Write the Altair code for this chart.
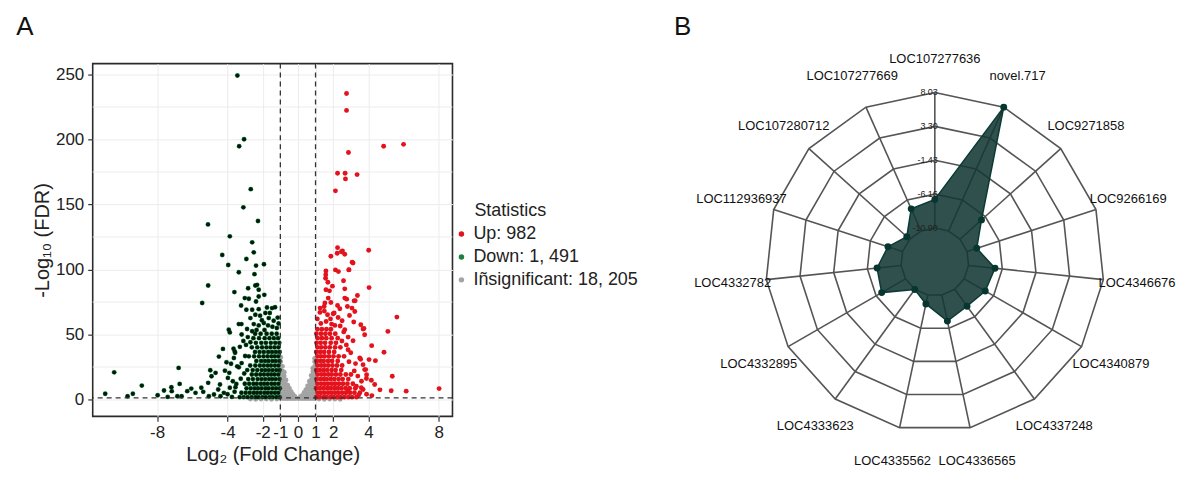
import altair as alt
import numpy as np
import pandas as pd

FONT = "Liberation Sans"

# ---------------- Panel A : volcano data ----------------
status_labels = ["Up: 982", "Down: 1, 491", "Iñsignificant: 18, 205"]
status_colors = ["#e3121c", "#1c8040", "#a3a3a3"]

x_ticks = [-8, -4, -2, -1, 0, 1, 2, 4, 8]
y_ticks = [0, 50, 100, 150, 200, 250]
y_minor = [25, 75, 125, 175, 225]
fc_cut = [-1, 1]
fdr_cut = [1.3]

up_pts = [
    (2.76, 235.4), (2.76, 222.4), (4.87, 194.8), (6.00, 196.3), (2.87, 190.0), (2.25, 174.0),
    (2.68, 174.0), (2.70, 169.7), (3.36, 173.0), (2.13, 160.5), (2.25, 116.8), (2.53, 114.3),
    (2.66, 111.7), (1.87, 110.2), (2.23, 112.5), (4.02, 114.8), (3.13, 105.0), (1.59, 98.9),
    (2.13, 99.7), (2.30, 98.4), (2.90, 99.9), (1.57, 93.3), (1.70, 90.2), (2.59, 91.3),
    (1.96, 87.2), (2.66, 85.1), (4.04, 86.1), (1.59, 84.4), (1.79, 83.6), (3.38, 80.0),
    (1.72, 78.0), (2.66, 78.0), (2.77, 77.2), (3.19, 75.9), (1.53, 74.2), (1.87, 74.6),
    (2.25, 72.3), (1.26, 70.3), (1.49, 71.5), (2.38, 69.8), (2.81, 71.5), (3.07, 70.3),
    (3.23, 67.7), (2.93, 64.6), (5.62, 63.4), (1.68, 65.2), (2.06, 66.5), (2.28, 63.1),
    (2.51, 60.6), (3.17, 59.6), (1.91, 58.0), (3.57, 57.5), (3.70, 54.2), (5.11, 52.4),
    (2.66, 53.7), (3.79, 49.8), (3.13, 45.2), (4.19, 41.4), (4.89, 36.3), (2.85, 38.3),
    (3.51, 32.0), (4.04, 30.7), (4.40, 29.9), (3.27, 27.6), (3.70, 26.8), (3.79, 23.0),
    (5.36, 17.9), (3.89, 16.1), (4.17, 14.8), (3.61, 14.0), (4.66, 7.4), (5.30, 6.7),
    (6.15, 6.4), (8.02, 8.4), (4.36, 11.5), (3.32, 10.2), (2.85, 6.4), (3.70, 7.7),
    (3.08, 105.6), (2.89, 99.7), (2.47, 113.7), (3.25, 76.0), (3.75, 54.6), (3.56, 31.0),
    (3.90, 19.0), (3.85, 23.0), (2.60, 52.0), (2.85, 48.0), (2.50, 45.0), (2.75, 42.0),
    (3.00, 36.0), (2.90, 29.0), (3.20, 22.0), (3.40, 18.0), (3.60, 9.0), (3.90, 4.0),
    (4.20, 3.0), (3.45, 3.5), (2.40, 56.5), (2.10, 57.0), (1.30, 58.5), (1.60, 60.0),
    (1.85, 62.0), (1.10, 62.0), (2.00, 66.0), (1.25, 67.0), (1.50, 68.0), (1.58, 96.0),
]
up_rows = [
    (1.8, [1.04, 1.23, 1.44, 1.62, 1.84, 2.03, 2.24, 2.43, 2.64, 2.86, 3.07, 3.32]),
    (5.2, [1.12, 1.31, 1.51, 1.72, 1.92, 2.12, 2.31, 2.52, 2.73, 2.96, 3.21, 3.52]),
    (8.6, [1.03, 1.24, 1.45, 1.66, 1.85, 2.06, 2.26, 2.47, 2.71, 2.94, 3.26]),
    (12.1, [1.11, 1.32, 1.52, 1.71, 1.93, 2.12, 2.33, 2.56, 2.81, 3.12]),
    (15.7, [1.05, 1.26, 1.46, 1.64, 1.86, 2.07, 2.31, 2.54, 2.86]),
    (19.2, [1.12, 1.33, 1.52, 1.73, 1.92, 2.16, 2.41, 2.72, 3.01]),
    (22.6, [1.04, 1.24, 1.45, 1.66, 1.91, 2.14, 2.46]),
    (26.1, [1.11, 1.32, 1.51, 1.72, 1.96, 2.22, 2.51]),
    (29.7, [1.05, 1.26, 1.46, 1.71, 1.94, 2.26]),
    (33.2, [1.12, 1.31, 1.52, 1.76, 2.02, 2.31, 2.62]),
    (36.6, [1.04, 1.26, 1.49, 1.76, 2.06]),
    (40.1, [1.11, 1.32, 1.56, 1.81, 2.11, 2.41]),
    (43.6, [1.06, 1.29, 1.54, 1.86, 2.16]),
    (47.2, [1.12, 1.36, 1.61, 1.91, 2.26]),
    (50.6, [1.05, 1.31, 1.56, 1.82, 2.12]),
    (54.0, [1.11, 1.36, 1.62, 1.87]),
]

down_pts = [
    (-3.44, 249.2), (-3.06, 200.2), (-3.34, 194.8), (-2.68, 161.8), (-3.10, 147.8), (-2.27, 137.3),
    (-5.11, 134.7), (-3.87, 125.5), (-2.60, 120.9), (-2.51, 113.2), (-4.30, 111.2), (-2.93, 108.1),
    (-3.96, 103.5), (-2.38, 103.0), (-1.93, 104.0), (-3.36, 97.9), (-2.47, 96.4), (-5.10, 87.7),
    (-3.61, 82.6), (-2.83, 85.6), (-2.42, 87.7), (-2.32, 88.2), (-2.23, 84.4), (-1.91, 80.5),
    (-5.44, 74.2), (-3.23, 72.3), (-3.02, 78.0), (-2.79, 77.5), (-2.23, 79.2), (-2.38, 75.4),
    (-2.93, 69.0), (-2.60, 69.0), (-2.23, 69.5), (-1.76, 70.8), (-1.47, 70.3), (-1.30, 71.0),
    (-1.85, 66.5), (-2.42, 65.2), (-2.70, 62.6), (-1.66, 62.6), (-1.38, 60.6), (-3.36, 58.0),
    (-3.21, 58.0), (-2.89, 54.2), (-2.51, 58.0), (-2.23, 57.0), (-1.94, 58.8), (-3.93, 53.7),
    (-3.87, 51.6), (-3.64, 31.9), (-3.59, 37.0), (-3.45, 25.5), (-3.36, 24.8), (-3.87, 9.0),
    (-4.21, 5.1), (-4.77, 3.8), (-10.95, 4.4), (-10.44, 20.9), (-9.68, 2.5), (-9.38, 4.4),
    (-8.87, 10.7), (-7.97, 3.3), (-7.61, 6.9), (-7.40, 2.0), (-7.19, 9.5), (-7.17, 6.4),
    (-6.78, 24.3), (-6.72, 12.0), (-6.85, 2.5), (-6.61, 2.5), (-6.29, 6.4), (-6.06, 8.4),
    (-5.82, 5.1), (-5.49, 9.0), (-5.38, 5.9), (-5.06, 2.5), (-4.98, 22.5), (-4.91, 17.9),
    (-5.10, 12.8), (-4.68, 20.5), (-4.53, 7.7), (-4.43, 11.5), (-4.49, 33.0), (-4.26, 38.9),
    (-4.15, 22.2), (-4.06, 28.6), (-3.98, 16.6), (-3.66, 39.0), (-3.57, 36.0), (-3.20, 50.0),
    (-2.85, 48.0), (-3.10, 45.0), (-2.95, 42.0), (-3.30, 40.5), (-2.70, 44.0), (-3.00, 33.5),
    (-3.20, 28.0), (-3.05, 20.0), (-3.25, 16.0), (-3.50, 12.0), (-3.70, 14.0), (-3.90, 20.5),
    (-3.60, 6.0), (-4.00, 4.0), (-4.40, 2.5), (-3.75, 2.0), (-3.55, 9.5), (-3.80, 27.5),
    (-1.15, 63.0), (-1.20, 55.0), (-1.45, 56.0), (-1.70, 57.0), (-1.90, 53.5), (-2.05, 61.0),
    (-2.15, 64.5), (-1.60, 66.5), (-1.10, 58.5), (-2.60, 52.5), (-2.35, 53.5),
]
down_rows = [
    (1.8, [-1.04, -1.22, -1.43, -1.61, -1.83, -2.02, -2.24, -2.41, -2.63, -2.86, -3.08, -3.31]),
    (5.2, [-1.12, -1.31, -1.52, -1.72, -1.91, -2.13, -2.33, -2.52, -2.74, -2.97, -3.21]),
    (8.6, [-1.03, -1.24, -1.44, -1.66, -1.84, -2.06, -2.27, -2.46, -2.68, -2.92]),
    (12.1, [-1.11, -1.32, -1.51, -1.73, -1.92, -2.11, -2.34, -2.53, -2.77, -3.02]),
    (15.7, [-1.05, -1.26, -1.46, -1.64, -1.86, -2.07, -2.29, -2.56, -2.82]),
    (19.2, [-1.12, -1.33, -1.52, -1.71, -1.93, -2.14, -2.37, -2.62]),
    (22.6, [-1.04, -1.23, -1.44, -1.65, -1.86, -2.06, -2.31, -2.57, -2.88]),
    (26.1, [-1.11, -1.31, -1.53, -1.72, -1.94, -2.16, -2.42, -2.71]),
    (29.7, [-1.05, -1.26, -1.45, -1.67, -1.87, -2.09, -2.36]),
    (33.2, [-1.12, -1.32, -1.51, -1.73, -1.96, -2.21, -2.49, -2.79]),
    (36.6, [-1.04, -1.25, -1.47, -1.69, -1.94, -2.18, -2.44]),
    (40.1, [-1.11, -1.33, -1.56, -1.79, -2.04, -2.31, -2.62]),
    (43.6, [-1.06, -1.29, -1.54, -1.82, -2.08, -2.39]),
    (47.2, [-1.13, -1.37, -1.62, -1.89, -2.21, -2.53]),
    (50.6, [-1.21, -1.49, -1.78, -2.12, -2.43]),
]

ns_cols = [
    (-0.98, [1, 4.5, 8, 11.5, 15, 18.5, 22, 25.5, 29, 32.5]),
    (-0.88, [1, 4.5, 8, 11.5, 15, 18.5, 22, 25.5]),
    (-0.78, [0.8, 4, 7.5, 11, 14.5, 18, 21]),
    (-0.68, [1, 4.5, 8, 11.5, 15]),
    (-0.58, [0.8, 4, 7.5, 11]),
    (-0.48, [1, 4.5, 8.5]),
    (-0.38, [0.8, 3.5, 6]),
    (-0.28, [1, 3.8]),
    (-0.18, [0.8, 2.5]),
    (-0.08, [1]),
    (0.05, [0.8]),
    (0.15, [1, 2.3]),
    (0.25, [0.8, 3.2]),
    (0.35, [1, 3.5, 5.5]),
    (0.45, [0.8, 4, 7.5]),
    (0.55, [1, 4.5, 8, 10.5]),
    (0.65, [0.8, 4, 7.5, 11, 14]),
    (0.75, [1, 4.5, 8, 11.5, 15, 18.5]),
    (0.85, [0.8, 4, 7.5, 11, 14.5, 18, 21.5, 24]),
    (0.95, [1, 4.5, 8, 11.5, 15, 18.5, 22, 25.5, 29, 31.5]),
]
ns_pts = [(-2.7, 0.3), (-2.4, 0.2), (-2.1, 0.4), (-1.8, 0.3), (-1.5, 0.2), (-1.2, 0.4),
          (1.2, 0.3), (1.5, 0.2), (1.8, 0.4), (2.1, 0.3), (2.4, 0.2)]

# ---------------- Panel B : radar data ----------------
genes = ["LOC107277636", "novel.717", "LOC9271858", "LOC9266169", "LOC4346676",
         "LOC4340879", "LOC4337248", "LOC4336565", "LOC4335562", "LOC4333623",
         "LOC4332895", "LOC4332782", "LOC112936937", "LOC107280712", "LOC107277669"]
gene_values = [-6.90, 8.03, -6.86, -9.48, -7.18, -7.50, -7.98, -7.18, -9.63, -10.86,
               -7.06, -7.52, -8.75, -10.36, -7.52]
ring_text = ["8.03", "3.30", "-1.43", "-6.16", "-10.90"]
radar_center_value = -15.63

# ---------------- build tables ----------------
rows = []
for x, y in ns_pts:
    rows.append((x, y, status_labels[2]))
for x, ys in ns_cols:
    for y in ys:
        rows.append((x, y, status_labels[2]))
for y, xs in down_rows:
    for x in xs:
        rows.append((x, y, status_labels[1]))
for x, y in down_pts:
    rows.append((x, y, status_labels[1]))
for y, xs in up_rows:
    for x in xs:
        rows.append((x, y, status_labels[0]))
for x, y in up_pts:
    rows.append((x, y, status_labels[0]))
vol = pd.DataFrame(rows, columns=["lfc", "lfdr", "status"])
vol_down = vol[vol["status"] == status_labels[1]]

xs_scale = alt.Scale(domain=[-11.66, 8.78], nice=False, zero=False)
ys_scale = alt.Scale(domain=[-13.0, 258.4], nice=False, zero=False)

axis_common = dict(
    titleFont=FONT, titleFontSize=20, titleFontWeight="normal", titleColor="#222222",
    labelFont=FONT, labelFontSize=17, labelColor="#222222",
    tickSize=5, tickColor="#333333", tickWidth=1.2, domain=False,
    grid=True, gridColor="#ececec", gridWidth=1,
    labelOverlap=False, labelFlush=False, labelBound=False,
    labelExpr="toString(datum.value)",
)
X = alt.X("lfc:Q", scale=xs_scale,
          axis=alt.Axis(values=x_ticks, title="Log₂ (Fold Change)", labelPadding=3,
                        titlePadding=4, **axis_common))
Y = alt.Y("lfdr:Q", scale=ys_scale,
          axis=alt.Axis(values=y_ticks, title="-Log₁₀ (FDR)", labelPadding=4,
                        titlePadding=3, **axis_common))

minor_grid = alt.Chart(pd.DataFrame({"lfdr": y_minor})).mark_rule(
    color="#ececec", strokeWidth=1).encode(y=Y)

pts = alt.Chart(vol).mark_circle(size=24, opacity=1).encode(
    x=X, y=Y,
    color=alt.Color("status:N",
                    scale=alt.Scale(domain=status_labels, range=status_colors),
                    legend=alt.Legend(title=None, orient="none", legendX=361, legendY=162,
                                      padding=0, labelLimit=400,
                                      labelFont=FONT, labelFontSize=18, labelColor="#222222",
                                      symbolType="circle", symbolSize=30, symbolStrokeWidth=0,
                                      labelOffset=3, rowPadding=5)),
)
dark_core = alt.Chart(vol_down).mark_circle(size=15, color="#021a09", opacity=1).encode(x=X, y=Y)

vlines = alt.Chart(pd.DataFrame({"lfc": fc_cut})).mark_rule(
    color="#333333", strokeWidth=1.3, strokeDash=[5, 4]).encode(x=X)
hline = alt.Chart(pd.DataFrame({"lfdr": fdr_cut})).mark_rule(
    color="#333333", strokeWidth=1.3, strokeDash=[5, 4]).encode(y=Y)

panel_a = alt.Chart(pd.DataFrame({"t": ["A"]})).mark_text(
    font=FONT, fontSize=26, align="center", baseline="alphabetic", color="#111111").encode(
    text="t:N", x=alt.value(-68), y=alt.value(-29))
legend_title = alt.Chart(pd.DataFrame({"t": ["Statistics"]})).mark_text(
    font=FONT, fontSize=18, align="left", baseline="middle", color="#222222").encode(
    text="t:N", x=alt.value(383), y=alt.value(148))

volcano = alt.layer(minor_grid, pts, dark_core, vlines, hline, panel_a, legend_title).properties(
    width=361, height=354,
    view=alt.ViewBackground(stroke="#2b2b2b", strokeWidth=1.6),
)

# ---------------- radar geometry ----------------
n = len(genes)
ring_vals = [float(t) for t in ring_text]
vmax = ring_vals[0]
span = vmax - radar_center_value
ang = np.arange(n) * 2 * np.pi / n

ring_rows = []
for t in ring_vals:
    r = (t - radar_center_value) / span
    for k in range(n + 1):
        a = ang[k % n]
        ring_rows.append((t, k, r * np.sin(a), r * np.cos(a)))
rings = pd.DataFrame(ring_rows, columns=["ring", "k", "x", "y"])

r_in = (ring_vals[-1] - radar_center_value) / span
spokes = pd.DataFrame({"x": r_in * np.sin(ang), "y": r_in * np.cos(ang),
                       "x2": np.sin(ang), "y2": np.cos(ang)})

rv = (np.array(gene_values) - radar_center_value) / span
poly = pd.DataFrame({"k": np.arange(n), "x": rv * np.sin(ang), "y": rv * np.cos(ang)})

lab = pd.DataFrame({"gene": genes, "x": 1.2 * np.sin(ang), "y": 1.2 * np.cos(ang)})
rlab = pd.DataFrame({"t": ring_text, "x": 0.0,
                     "y": [(v - radar_center_value) / span for v in ring_vals]})

rx = alt.Scale(domain=[-1.5412, 1.4], nice=False, zero=False)
ry = alt.Scale(domain=[-1.2176, 1.1706], nice=False, zero=False)
RX = alt.X("x:Q", scale=rx, axis=None)
RY = alt.Y("y:Q", scale=ry, axis=None)

ring_lines = alt.Chart(rings).mark_line(color="#555555", strokeWidth=1.6).encode(
    x=RX, y=RY, detail="ring:N", order="k:Q")
spoke_lines = alt.Chart(spokes).mark_rule(color="#555555", strokeWidth=1.6).encode(
    x=RX, y=RY, x2="x2:Q", y2="y2:Q")
fill_poly = alt.Chart(poly).mark_line(
    interpolate="linear-closed", fill="#133834", fillOpacity=0.88,
    stroke="#0a3a33", strokeWidth=1.5).encode(x=RX, y=RY, order="k:Q")
dots = alt.Chart(poly).mark_circle(size=48, color="#06362f", opacity=1).encode(x=RX, y=RY)
ring_labels = alt.Chart(rlab).mark_text(
    font=FONT, fontSize=9, align="right", baseline="middle", dx=3, color="#222222").encode(
    x=RX, y=RY, text="t:N")
gene_labels = alt.Chart(lab).mark_text(
    font=FONT, fontSize=13, align="center", baseline="middle", color="#111111").encode(
    x=RX, y=RY, text="gene:N")
panel_b = alt.Chart(pd.DataFrame({"t": ["B"]})).mark_text(
    font=FONT, fontSize=26, align="center", baseline="alphabetic", color="#111111").encode(
    text="t:N", x=alt.value(9), y=alt.value(-29))

radar = alt.layer(ring_lines, spoke_lines, fill_poly, dots, ring_labels, gene_labels,
                  panel_b).properties(
    width=500, height=406,
    view=alt.ViewBackground(strokeWidth=0, stroke="transparent"),
)

chart = alt.ConcatChart(concat=[volcano, radar], columns=2, spacing=127, align="none",
                        bounds="full").properties(
    padding={"left": 7, "top": 4, "right": 0, "bottom": 0},
    background="white",
).configure(font=FONT)

chart.save("out.html", embed_options={"renderer": "svg", "actions": False})
